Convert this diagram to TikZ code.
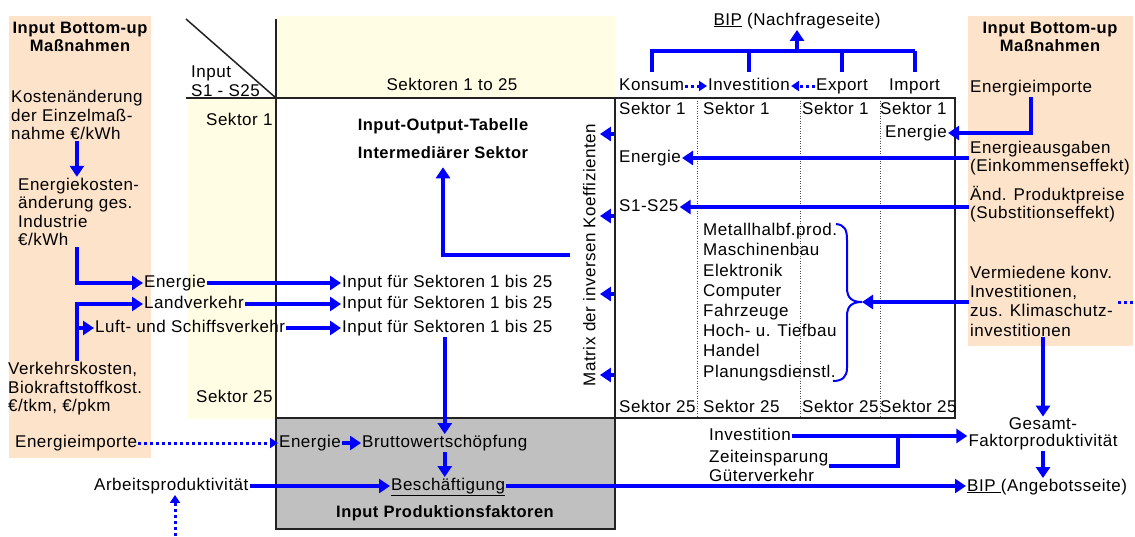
\documentclass[tikz,border=0pt]{standalone}
\usepackage{fontspec}
\setmainfont{Liberation Sans}[LetterSpace=3]
\usetikzlibrary{arrows.meta}
\definecolor{peach}{HTML}{FDE3CA}
\definecolor{paleyel}{HTML}{FFFDE3}
\definecolor{boxgray}{HTML}{C0C0C0}
\definecolor{frameblk}{HTML}{222222}
\tikzset{
  lbl/.style={inner sep=1pt, font=\fontsize{17}{19}\selectfont, text height=12pt, text depth=3.5pt},
  para/.style={inner sep=1pt, font=\fontsize{17}{18.5}\selectfont, align=left},
  hd/.style={inner sep=1pt, font=\fontsize{16.5}{18.5}\selectfont\bfseries, align=center},
  arr/.style={draw=blue, line width=4pt, -{Triangle[length=11pt,width=14pt]}},
  ln/.style={draw=blue, line width=4pt},
  dotarr/.style={draw=blue, line width=3pt, dash pattern=on 3pt off 3pt, -{Triangle[length=8pt,width=10pt]}},
  frame/.style={draw=frameblk, line width=1.5pt},
  coldiv/.style={draw=black!70, line width=0.7pt, dash pattern=on 1pt off 1.5pt}
}
\begin{document}
\begin{tikzpicture}[x=1pt, y=-1pt]
  \useasboundingbox (0,0) rectangle (1135,536);
  % Backgrounds
  \fill[peach] (9,16) rectangle (151,458);
  \fill[peach] (968,16) rectangle (1133,346);
  \fill[paleyel] (276,16) rectangle (616,98);
  \fill[paleyel] (188,98) rectangle (276,419);
  \filldraw[fill=boxgray, frame] (276,418) rectangle (615,529);
  % Table frame
  \node (tab) [frame, minimum width=340pt, minimum height=320pt, inner sep=0pt] at (785,258) {};
  \draw[frame] (186,19) -- (276,98);
  \draw[frame] (186,98) -- (615,98);
  \draw[frame] (276,19) -- (276,418);
  \draw[coldiv] (697,98) -- (697,418);
  \draw[coldiv] (800,98) -- (800,418);
  \draw[coldiv] (880,98) -- (880,418);

  % Nodes left
  \node (titleL) [hd] at (80,37) {Input Bottom-up\\Maßnahmen};
  \node (kost) [para, anchor=west] at (10,115) {Kostenänderung\\der Einzelmaß-\\nahme €/kWh};
  \node (ekost) [para, anchor=west] at (17,212) {Energiekosten-\\änderung ges.\\Industrie\\€/kWh};
  \node (verk) [para, anchor=west] at (7,389) {Verkehrskosten,\\Biokraftstoffkost.\\€/tkm, €/pkm};
  \node (eng1) [lbl, anchor=west] at (143,283) {Energie};
  \node (land) [lbl, anchor=west] at (143,304) {Landverkehr};
  \node (luft) [lbl, anchor=west] at (94,328) {Luft- und Schiffsverkehr};
  \node (eimpL) [lbl, anchor=west] at (14,443) {Energieimporte};
  \node (arbeit) [lbl, anchor=west] at (93,486) {Arbeitsproduktivität};

  % Nodes input-output table
  \node (inS) [para, anchor=west] at (190,81) {Input\\S1 - S25};
  \node (sekL1) [lbl, anchor=west] at (205,121) {Sektor 1};
  \node (sekL25) [lbl, anchor=west] at (195,398) {Sektor 25};
  \node (sekt) [lbl] at (452,86) {Sektoren 1 to 25};
  \node (iot1) [hd] at (443,126) {Input-Output-Tabelle};
  \node (iot2) [hd] at (443,153) {Intermediärer Sektor};
  \node (inp1) [lbl, anchor=west] at (341,283) {Input für Sektoren 1 bis 25};
  \node (inp2) [lbl, anchor=west] at (341,304) {Input für Sektoren 1 bis 25};
  \node (inp3) [lbl, anchor=west] at (341,328) {Input für Sektoren 1 bis 25};
  \node (mat) [lbl, rotate=90] at (591,255) {Matrix der inversen Koeffizienten};

  % Nodes production factors
  \node (engB) [lbl, anchor=west] at (278,443) {Energie};
  \node (bws) [lbl, anchor=west] at (361,443) {Bruttowertschöpfung};
  \node (besch) [lbl, anchor=west] at (390,486) {\underline{Beschäftigung}};
  \node (ipf) [hd] at (445,513) {Input Produktionsfaktoren};
  \coordinate (botD) at (175,536);

  % Nodes final demand
  \node (bipN) [lbl] at (797,21) {\underline{BIP} (Nachfrageseite)};
  \node (konsum) [lbl, anchor=west] at (618,86) {Konsum};
  \node (invest) [lbl, anchor=west] at (707,86) {Investition};
  \node (export) [lbl, anchor=west] at (815,86) {Export};
  \node (import) [lbl, anchor=west] at (888,86) {Import};
  \coordinate (bar) at (797,51);
  \node (s1a) [lbl, anchor=west] at (618,110) {Sektor 1};
  \node (s1b) [lbl, anchor=west] at (702,110) {Sektor 1};
  \node (s1c) [lbl, anchor=west] at (801,110) {Sektor 1};
  \node (s1d) [lbl, anchor=west] at (879,110) {Sektor 1};
  \node (s25a) [lbl, anchor=west] at (618,408) {Sektor 25};
  \node (s25b) [lbl, anchor=west] at (702,408) {Sektor 25};
  \node (s25c) [lbl, anchor=west] at (801,408) {Sektor 25};
  \node (s25d) [lbl, anchor=west] at (879,408) {Sektor 25};
  \node (e1) [lbl, anchor=west] at (618,158) {Energie};
  \node (s1s25) [lbl, anchor=west] at (618,207) {S1-S25};
  \node (e4) [lbl, anchor=west] at (884,133) {Energie};
  \node (list) [para, anchor=west, font=\fontsize{17}{20.2}\selectfont] at (702,302)
    {Metallhalbf.prod.\\Maschinenbau\\Elektronik\\Computer\\Fahrzeuge\\Hoch- u. Tiefbau\\Handel\\Planungsdienstl.};
  \coordinate (brtip) at (862,302);

  % Nodes right
  \node (titleR) [hd] at (1050,37) {Input Bottom-up\\Maßnahmen};
  \node (eimpR) [lbl, anchor=west] at (969,88) {Energieimporte};
  \node (eausg) [para, anchor=west] at (969,158) {Energieausgaben\\(Einkommenseffekt)};
  \node (aend) [para, anchor=west] at (969,204) {Änd. Produktpreise\\(Substitionseffekt)};
  \node (verm) [para, anchor=west, font=\fontsize{17}{19.3}\selectfont] at (969,301)
    {Vermiedene konv.\\Investitionen,\\zus. Klimaschutz-\\investitionen};
  \coordinate (edgeR) at (1135,302);
  \node (inv) [lbl, anchor=west] at (708,436) {Investition};
  \node (zeit) [para, anchor=west] at (708,466) {Zeiteinsparung\\Güterverkehr};
  \coordinate (join) at (898,436);
  \node (gfp) [para, align=center, font=\fontsize{17}{17}\selectfont] at (1043,434) {Gesamt-\\Faktorproduktivität};
  \node (bipA) [lbl, anchor=west] at (966,487) {\underline{BIP }(Angebotsseite)};

  % Arrows left
  \draw[arr] (kost.south) -- (kost.south |- ekost.north);
  \draw[arr] (kost.south |- ekost.south) |- (eng1.west);
  \draw[arr] (kost.south |- verk.north) |- (land.west);
  \draw[arr] (kost.south |- luft.west) -- (luft.west);
  \draw[arr] (eng1.east) -- (inp1.west);
  \draw[arr] (land.east) -- (inp2.west);
  \draw[arr] (luft.east) -- (inp3.west);
  \draw[arr] (inp3.south -| bws.north) -- (bws.north);
  \draw[arr, shorten <=12pt, shorten >=7pt] (mat.north) -| (iot2.south);
  \draw[arr] (tab.west |- 0,134) -- (mat.south |- 0,134);
  \draw[arr] (tab.west |- 0,216) -- (mat.south |- 0,216);
  \draw[arr] (tab.west |- 0,294) -- (mat.south |- 0,294);
  \draw[arr] (tab.west |- 0,375) -- (mat.south |- 0,375);

  % Arrows bottom
  \draw[dotarr] (eimpL.east) -- (engB.west);
  \draw[arr] (engB.east) -- (bws.west);
  \draw[arr] (bws.south) -- (bws.south |- besch.north);
  \draw[arr] (arbeit.east) -- (besch.west);
  \draw[arr] (besch.east) -- (besch.east -| bipA.west);
  \draw[dotarr] (botD) -- (botD |- arbeit.south);

  % Arrows final demand
  \draw[ln, shorten <=5pt] (konsum.north) -- (konsum.north |- bar) -- (import.north |- bar);
  \draw[ln, shorten >=5pt] (import.north |- bar) -- (import.north);
  \draw[ln, shorten >=5pt] (invest.north |- bar) -- (invest.north);
  \draw[ln, shorten >=5pt] (export.north |- bar) -- (export.north);
  \draw[arr] (bar) -- (bipN.south);
  \draw[dotarr] (konsum.east) -- (invest.west);
  \draw[dotarr] (export.west) -- (invest.east);

  % Arrows right
  \draw[arr] (eimpR.south) |- (e4.east);
  \draw[arr] (eausg.west |- e1.east) -- (e1.east);
  \draw[arr] (aend.west |- s1s25.east) -- (s1s25.east);
  \draw[arr] (verm.west |- brtip) -- (brtip);
  \draw[dotarr, -] ([xshift=4pt]verm.east |- brtip) -- (edgeR);
  \draw[blue, line width=2pt] (836,224) .. controls (845,225) and (847,230) .. (847,240)
    -- (847,288) .. controls (847,298) and (852,302) .. (862,302)
    .. controls (852,302) and (847,306) .. (847,316)
    -- (847,368) .. controls (847,377) and (842,381) .. (833,381);
  \draw[arr] (verm.south -| gfp.north) -- (gfp.north);
  \draw[arr] (inv.east) -- (inv.east -| gfp.west);
  \draw[ln] (zeit.east) -| (join);
  \draw[arr] (gfp.south) -- (gfp.south |- bipA.north);
\end{tikzpicture}
\end{document}
